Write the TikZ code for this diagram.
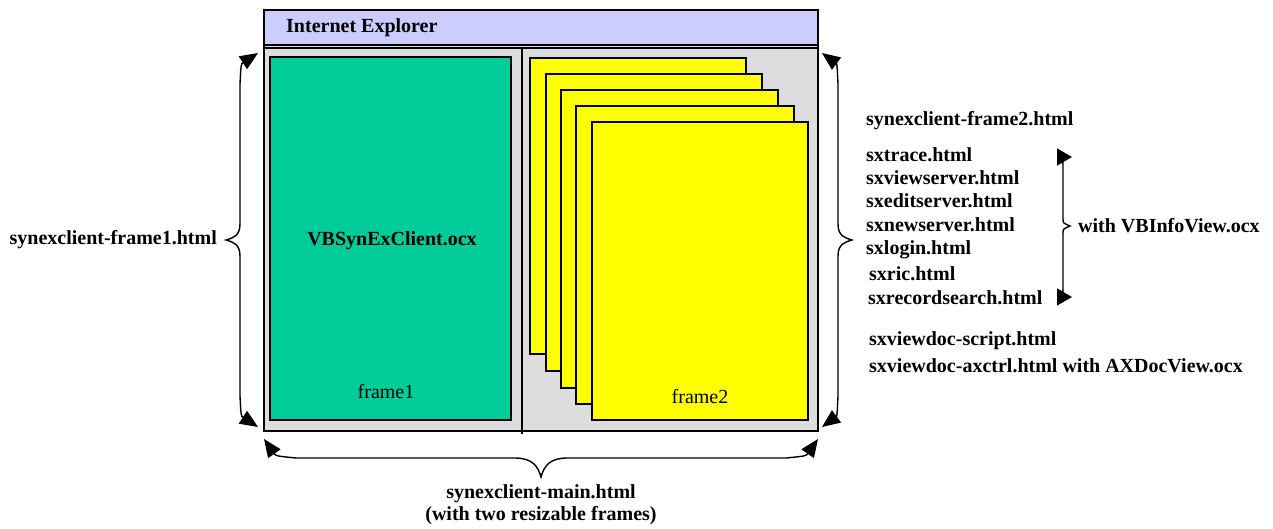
\documentclass[tikz,border=0pt]{standalone}
\usepackage{fontspec}
\setmainfont{Liberation Serif}
\usetikzlibrary{arrows.meta}
\definecolor{titlebar}{HTML}{CCCCFF}
\definecolor{framegray}{HTML}{DDDDDD}
\definecolor{ocxgreen}{HTML}{00CC99}
\definecolor{pageyellow}{HTML}{FFFF00}
\begin{document}
\begin{tikzpicture}[x=1pt,y=-1pt,
  brace/.style={line width=1.4pt,{Triangle[length=18pt,width=15pt]}-{Triangle[length=18pt,width=15pt]}},
  smallbrace/.style={line width=1.4pt,{Triangle[length=15pt,width=17pt]}-{Triangle[length=15pt,width=17pt]}},
  page/.style={draw,line width=1.2pt,fill=pageyellow},
  lbl/.style={font=\fontsize{20}{22}\selectfont\bfseries,inner sep=0pt},
  plain/.style={font=\fontsize{20}{22}\selectfont,inner sep=0pt}]
\useasboundingbox (0,0) rectangle (1273,529);
% browser window
\draw [line width=1.5pt, fill=framegray] (264,10) rectangle (818,431);
\draw [line width=1.2pt, fill=titlebar] (264,10) rectangle (818,45);
\draw [line width=1.2pt] (264,48) -- (818,48);
\draw [line width=1.2pt] (522,48) -- (522,434);
\node [lbl, anchor=west] (title) at (286,28) {Internet Explorer};
% frame1
\draw [line width=1.2pt, fill=ocxgreen] (270,57) rectangle (511,420);
\node [lbl] (ocx) at (392,241) {VBSynExClient.ocx};
\node [plain] (frameone) at (386,392) {frame1};
% frame2 pages
\draw [page] (530,58) rectangle (746,354);
\draw [page] (546,74) rectangle (762,371);
\draw [page] (561,90) rectangle (778,388);
\draw [page] (576,106) rectangle (794,404);
\draw [page] (592,122) rectangle (808,420);
\node [plain] (frametwo) at (700,397) {frame2};
% left brace
\coordinate (ltop) at (258,53);
\coordinate (lbot) at (258,427);
\node [lbl, anchor=east] (frameonefile) at (217,240) {synexclient-frame1.html};
\draw [brace] (ltop) .. controls (241,64) .. (240,84) -- (240,224) .. controls (240,236) and (233,238) .. (226,240) .. controls (233,242) and (240,244) .. (240,256) -- (240,396) .. controls (241,416) .. (lbot);
% right brace
\coordinate (rtop) at (822,53);
\coordinate (rbot) at (822,427);
\draw [brace] (rtop) .. controls (837,64) .. (838,84) -- (838,224) .. controls (838,236) and (845,238) .. (852,240) .. controls (845,242) and (838,244) .. (838,256) -- (838,396) .. controls (837,416) .. (rbot);
% bottom brace
\coordinate (bleft) at (264,439);
\coordinate (bright) at (818,439);
\draw [brace] (bleft) .. controls (276,456) .. (296,458) -- (515,458) .. controls (532,458) and (538,466) .. (541,477) .. controls (544,466) and (550,458) .. (567,458) -- (786,458) .. controls (806,456) .. (bright);
\node [lbl] (mainfile) at (541,494) {synexclient-main.html};
\node [lbl] (mainnote) at (541,516) {(with two resizable frames)};
% frame2 files
\node [lbl, anchor=west] (frametwofile) at (866,121) {synexclient-frame2.html};
\node [lbl, anchor=west] (ftrace) at (866,155) {sxtrace.html};
\node [lbl, anchor=west] (fview) at (866,178) {sxviewserver.html};
\node [lbl, anchor=west] (fedit) at (866,201) {sxeditserver.html};
\node [lbl, anchor=west] (fnew) at (866,225) {sxnewserver.html};
\node [lbl, anchor=west] (flogin) at (866,250) {sxlogin.html};
\node [lbl, anchor=west] (fric) at (869,274) {sxric.html};
\node [lbl, anchor=west] (frecord) at (868,298) {sxrecordsearch.html};
\node [lbl, anchor=west] (fscript) at (869,341) {sxviewdoc-script.html};
\node [lbl, anchor=west] (faxctrl) at (869,366) {sxviewdoc-axctrl.html with AXDocView.ocx};
% small brace
\coordinate (stop) at (1072,157);
\coordinate (sbot) at (1072,297);
\draw [smallbrace] (stop) .. controls (1063,157) .. (1063,172) -- (1063,219) .. controls (1063,223) .. (1070,226) .. controls (1063,229) .. (1063,233) -- (1063,282) .. controls (1063,297) .. (sbot);
\node [lbl, anchor=west] (infoview) at (1078,226) {with VBInfoView.ocx};
\end{tikzpicture}
\end{document}
